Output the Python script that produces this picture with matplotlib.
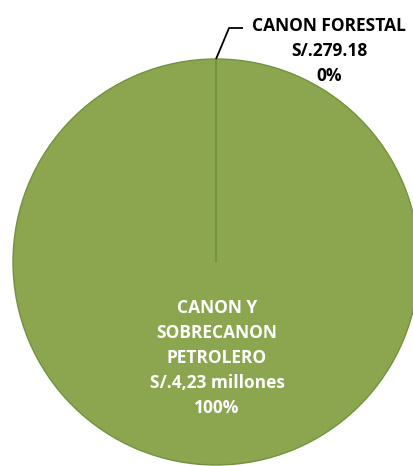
import matplotlib.pyplot as plt
import numpy as np

# Datos del gráfico
categorias = ['CANON Y\nSOBRECANON\nPETROLERO', 'CANON FORESTAL']
montos     = [4230000.0, 279.18]
textos_monto = ['S/.4,23 millones', 'S/.279.18']

W, H = 414, 466
cx, cy, r = 216, H - 262, 203     # centro y radio del pastel, en píxeles

verde  = '#8BA64F'
borde  = '#73913F'

fig = plt.figure(figsize=(W / 100, H / 100), dpi=100)
ax = fig.add_axes([0, 0, 1, 1])

total = sum(montos)
porc = [100 * m / total for m in montos]

wedges, _ = ax.pie(montos, colors=[verde, verde], startangle=90, counterclock=False,
                   center=(cx, cy), radius=r, frame=True,
                   wedgeprops=dict(edgecolor=borde, linewidth=1.0))
ax.set_xlim(0, W)
ax.set_ylim(0, H)
ax.set_aspect('equal')
ax.axis('off')

fuente = 'Open Sans'

# etiqueta interior
ax.text(cx + 1, H - 358, f'{categorias[0]}\n{textos_monto[0]}\n{porc[0]:.0f}%',
        ha='center', va='center', color='white', fontsize=12.5, fontweight='bold',
        family=fuente, linespacing=1.5)

# etiqueta exterior con línea guía
ang = np.deg2rad(90 - 360 * montos[1] / total / 2)
px, py = cx + r * np.cos(ang), cy + r * np.sin(ang)
ax.plot([px, px + 13, px + 27], [py, H - 28, H - 28], color='black', lw=1.3,
        solid_capstyle='butt')
ax.text(329, H - 51, f'{categorias[1]}\n{textos_monto[1]}\n{porc[1]:.0f}%',
        ha='center', va='center', color='black', fontsize=12.5, fontweight='bold',
        family=fuente, linespacing=1.5)

fig.savefig('out.png', dpi=100)
